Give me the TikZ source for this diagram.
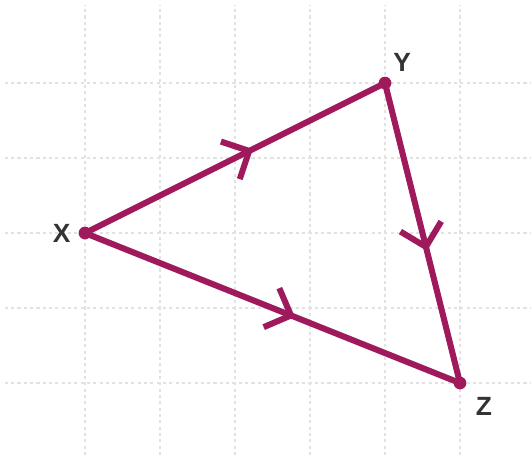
\documentclass[tikz,border=0pt]{standalone}
\usepackage{fontspec}
\setmainfont{Liberation Sans}
\usetikzlibrary{arrows.meta,decorations.markings}
\definecolor{edgecol}{HTML}{9E1A5C}
\definecolor{gridcol}{HTML}{E2E2E2}
\definecolor{labcol}{HTML}{333333}
\tikzset{
  pt/.style={circle, fill=edgecol, inner sep=0pt, minimum size=0.17cm},
  lbl/.style={text=labcol, font=\fontsize{10}{11}\selectfont\bfseries},
  side/.style={draw=edgecol, line width=2.3pt, postaction={decorate},
    decoration={markings, mark=at position 0.56 with {\arrow[edgecol]{Straight Barb[length=0.28cm, width=0.56cm]}}}},
  gridline/.style={draw=gridcol, line width=0.5pt, dash pattern=on 1.2pt off 1.2pt}
}
\begin{document}
\begin{tikzpicture}
  \useasboundingbox (-1.133,-3.027) rectangle (5.947,3.107);
  % grid
  \foreach \x in {0,...,5}
    \draw[gridline] (\x,-2.96) -- (\x,3.04);
  \foreach \y in {-2,...,2}
    \draw[gridline] (-1.07,\y) -- (5.95,\y);

  \node (X) [pt] at (0,0) {};
  \node (Y) [pt] at (4,2) {};
  \node (Z) [pt] at (5,-2) {};

  \draw [side] (X.center) -- (Y.center);
  \draw [side] (X.center) -- (Z.center);
  \draw [side] (Y.center) -- (Z.center);

  \node (Xlab) [lbl] at ([xshift=-0.31cm]X.center) {X};
  \node (Ylab) [lbl] at ([xshift=0.23cm, yshift=0.28cm]Y.center) {Y};
  \node (Zlab) [lbl] at ([xshift=0.32cm, yshift=-0.31cm]Z.center) {Z};
\end{tikzpicture}
\end{document}
